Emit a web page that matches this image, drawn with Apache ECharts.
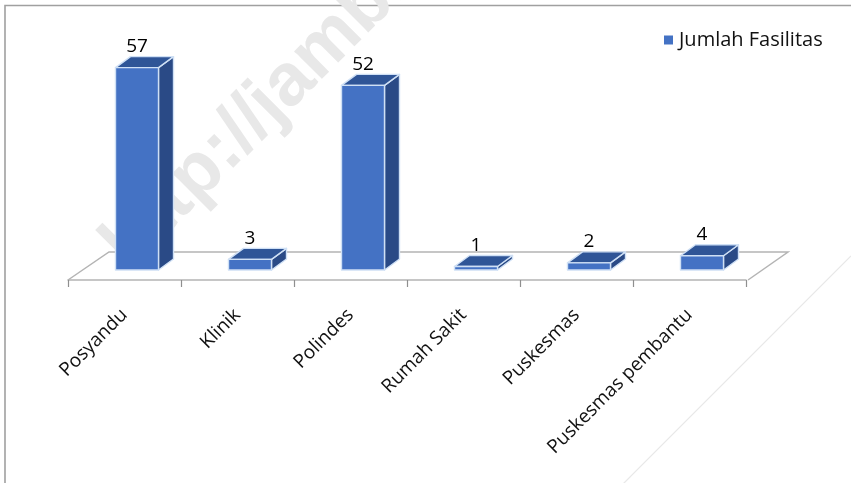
<!DOCTYPE html>
<html><head><meta charset="utf-8">
<style>html,body{margin:0;padding:0;background:#fff}#c{width:851px;height:483px}</style>
<script src="https://cdn.jsdelivr.net/npm/echarts@6/dist/echarts.min.js"></script>
</head><body><div id="c"></div>
<script>
const categories = ['Posyandu','Klinik','Polindes','Rumah Sakit','Puskesmas','Puskesmas pembantu'];
const values = [57,3,52,1,2,4];
const seriesName = 'Jumlah Fasilitas';
const FONT = 'Open Sans';

const chart = echarts.init(document.getElementById('c'));
function renderBar(params, api){
  const i = api.value(0), v = api.value(1);
  const base = api.coord([i,0]), top = api.coord([i,v]);
  const cx = base[0] + 12.5, w = 43, dx = 15, dy = 11, lift = 10;
  const xl = cx - w/2, xr = cx + w/2, yb = base[1] - lift, yt = top[1] - lift;
  const edge = {stroke:'#cfe0f5', lineWidth:1.4, lineJoin:'round'};
  return {type:'group', children:[
    {type:'polygon', shape:{points:[[xr,yt],[xr+dx,yt-dy],[xr+dx,yb-dy],[xr,yb]]}, style:Object.assign({fill:'#2a4a86'},edge)},
    {type:'polygon', shape:{points:[[xl,yt],[xl+dx,yt-dy],[xr+dx,yt-dy],[xr,yt]]}, style:Object.assign({fill:'#2f5597'},edge)},
    {type:'rect', shape:{x:xl,y:yt,width:w,height:yb-yt}, style:Object.assign({fill:'#4472c4'},edge)},
    {type:'text', style:{text:String(v), x:cx, y:yt-dy-10, align:'center', verticalAlign:'middle', font:'19px "'+FONT+'"', fill:'#000'}}
  ]};
}
chart.setOption({
  animation:false,
  backgroundColor:'#fff',
  grid:{left:68,right:105,top:67,bottom:203,containLabel:false},
  legend:{left:659,top:25,itemWidth:9,itemHeight:9,icon:'rect',itemGap:0,
    textStyle:{fontFamily:FONT,fontSize:20,color:'#111',padding:[0,0,0,1]},data:[seriesName]},
  xAxis:{type:'category',data:categories,
    axisLine:{show:true,lineStyle:{color:'#b4b4b4',width:1.5}},
    axisTick:{show:true,alignWithLabel:false,length:7,lineStyle:{color:'#8f8f8f',width:1.2}},
    axisLabel:{rotate:45,margin:32,interval:0,fontFamily:FONT,fontSize:19,color:'#111'},
    splitLine:{show:false}},
  yAxis:{type:'value',min:0,max:60,show:false,splitLine:{show:false}},
  graphic:[
    {type:'rect',z:-1,shape:{x:5,y:5.5,width:860,height:500},style:{fill:'none',stroke:'#a0a0a0',lineWidth:1.6}},
    {type:'line',z:-1,shape:{x1:851,y1:256,x2:623,y2:484},style:{stroke:'#e8e8e8',lineWidth:1.2}},
    {type:'text',z:-1,rotation:Math.PI/4,x:115,y:257,style:{text:'http://jambi',font:'bold 74px "Liberation Sans"',fill:'#e8e8e8',align:'left',verticalAlign:'middle'}},
    {type:'polyline',z:0,shape:{points:[[68,280],[109,252],[788,252],[748,280]]},style:{fill:'none',stroke:'#b4b4b4',lineWidth:1.5}}
  ],
  series:[{type:'custom',name:seriesName,itemStyle:{color:'#4472c4'},
    encode:{x:0,y:1},clip:false,
    data:values.map((v,i)=>[i,v]),renderItem:renderBar}]
});
</script></body></html>
